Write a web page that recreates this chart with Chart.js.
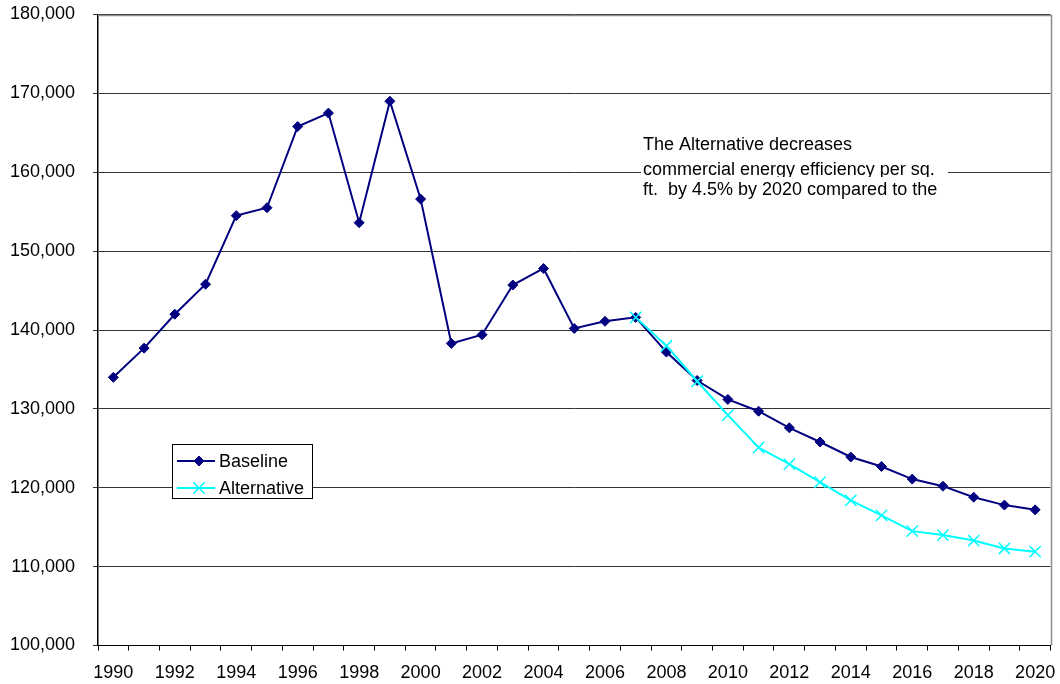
<!DOCTYPE html>
<html>
<head>
<meta charset="utf-8">
<title>Commercial energy use</title>
<script src="https://cdn.jsdelivr.net/npm/chart.js@4"></script>
<style>
  html, body { margin: 0; padding: 0; background: #fff; }
  canvas { display: block; }
</style>
</head>
<body>
<canvas id="chart" width="1060" height="684"></canvas>
<script>
// Years on the category axis
const years = [];
for (let y = 1990; y <= 2020; y++) years.push(String(y));

// Baseline series, 1990-2020
const baseline = [
  134000, 137700, 142000, 145800, 154500, 155500, 165800, 167500, 153600, 169000,
  156600, 138300, 139400, 145700, 147800, 140200, 141100, 141600, 137200, 133600,
  131200, 129700, 127600, 125800, 123900, 122700, 121100, 120200, 118800, 117800,
  117200
];

// Alternative series, starts in 2007
const alternative = [
  null, null, null, null, null, null, null, null, null, null,
  null, null, null, null, null, null, null, 141600, 138000, 133500,
  129200, 125100, 123000, 120700, 118400, 116500, 114500, 114000, 113300, 112300,
  111900
];

const seriesNames = ['Baseline', 'Alternative'];
const noteLines = [
  'The Alternative decreases',
  'commercial energy efficiency per sq.',
  'ft.  by 4.5% by 2020 compared to the'
];

const FONT = '"Liberation Sans", Arial, sans-serif';
const NAVY = '#000080';
const CYAN = '#00FFFF';

// Text box drawn inside the plot, over the gridlines
const notePlugin = {
  id: 'note',
  afterDraw(chart) {
    const ctx = chart.ctx;
    ctx.save();
    ctx.font = '18px ' + FONT;
    ctx.fillStyle = '#fff';
    ctx.fillRect(641, 128, 307, 49);
    ctx.fillStyle = '#000';
    ctx.textBaseline = 'middle';
    ctx.textAlign = 'left';
    ctx.fillText(noteLines[0], 643, 145);
    ctx.fillText(noteLines[1], 643, 170);
    ctx.fillStyle = '#fff';
    ctx.fillRect(641, 177, 307, 26);
    ctx.fillStyle = '#000';
    ctx.fillText(noteLines[2], 643, 190);
    ctx.restore();
  }
};

// Grey plot border along the top and right edges
const borderPlugin = {
  id: 'plotBorder',
  beforeDatasetsDraw(chart) {
    const { ctx, chartArea } = chart;
    const r = Math.round(chartArea.right) + 0.5;
    const t = Math.round(chartArea.top) + 0.5;
    ctx.save();
    ctx.strokeStyle = '#8c8c8c';
    ctx.lineWidth = 1.5;
    ctx.beginPath();
    ctx.moveTo(chartArea.left, t);
    ctx.lineTo(r, t);
    ctx.lineTo(r, chartArea.bottom);
    ctx.stroke();
    ctx.restore();
  }
};

// Boxed legend placed inside the plot area
const boxLegendPlugin = {
  id: 'boxLegend',
  afterDraw(chart) {
    const ctx = chart.ctx;
    const x = 172, y = 444, w = 140, h = 54;
    ctx.save();
    ctx.fillStyle = '#fff';
    ctx.fillRect(x, y, w, h);
    ctx.strokeStyle = '#000';
    ctx.lineWidth = 1;
    ctx.strokeRect(x + 0.5, y + 0.5, w, h);
    const rows = [461, 488];
    chart.data.datasets.forEach((ds, i) => {
      const cy = rows[i];
      ctx.strokeStyle = ds.borderColor;
      ctx.fillStyle = ds.borderColor;
      ctx.lineWidth = 2;
      ctx.beginPath();
      ctx.moveTo(177, cy);
      ctx.lineTo(215, cy);
      ctx.stroke();
      ctx.lineWidth = ds.pointBorderWidth;
      Chart.helpers.drawPoint(ctx, {
        pointStyle: ds.pointStyle,
        radius: ds.pointRadius,
        borderWidth: ds.pointBorderWidth
      }, 199, cy);
      ctx.fillStyle = '#000';
      ctx.font = '18px ' + FONT;
      ctx.textBaseline = 'middle';
      ctx.textAlign = 'left';
      ctx.fillText(ds.label, 219, cy + 1);
    });
    ctx.restore();
  }
};

// Keep the plot edges fixed: no extra room reserved for overhanging tick labels
function noScalePadding(scale) {
  scale.paddingLeft = 0;
  scale.paddingRight = 0;
  scale.paddingTop = 0;
  scale.paddingBottom = 0;
}

new Chart(document.getElementById('chart'), {
  type: 'line',
  data: {
    labels: years,
    datasets: [
      {
        label: seriesNames[0],
        data: baseline,
        borderColor: NAVY,
        backgroundColor: NAVY,
        borderWidth: 2,
        pointStyle: 'rectRot',
        pointRadius: 5,
        pointBorderWidth: 1,
        pointBackgroundColor: NAVY,
        pointBorderColor: NAVY,
        tension: 0,
        order: 1
      },
      {
        label: seriesNames[1],
        data: alternative,
        borderColor: CYAN,
        backgroundColor: CYAN,
        borderWidth: 2,
        pointStyle: 'crossRot',
        pointRadius: 8,
        pointBorderWidth: 1.5,
        pointBackgroundColor: CYAN,
        pointBorderColor: CYAN,
        tension: 0,
        spanGaps: false,
        order: 0
      }
    ]
  },
  options: {
    responsive: false,
    animation: false,
    layout: { padding: { top: 14.5, right: 3.5, left: 0, bottom: 0 } },
    plugins: {
      legend: { display: false },
      tooltip: { enabled: false }
    },
    scales: {
      x: {
        type: 'category',
        offset: true,
        grid: {
          offset: true,
          drawOnChartArea: false,
          drawTicks: true,
          tickLength: 5,
          color: '#000'
        },
        border: { display: true, color: '#000', width: 1 },
        ticks: {
          autoSkip: false,
          maxRotation: 0,
          minRotation: 0,
          padding: 12,
          color: '#000',
          font: { family: FONT, size: 18 },
          callback: function (value, index) {
            return index % 2 === 0 ? this.getLabelForValue(value) : '';
          }
        },
        afterFit(scale) { scale.height = 38.5; noScalePadding(scale); }
      },
      y: {
        min: 100000,
        max: 180000,
        grid: {
          color: '#333333',
          lineWidth: 1,
          drawTicks: true,
          tickLength: 5
        },
        border: { display: true, color: '#000', width: 1.5 },
        ticks: {
          stepSize: 10000,
          padding: 18,
          color: '#000',
          font: { family: FONT, size: 18 },
          callback: (v) => v.toLocaleString('en-US')
        },
        afterFit(scale) { scale.width = 98; noScalePadding(scale); }
      }
    }
  },
  plugins: [borderPlugin, notePlugin, boxLegendPlugin]
});
</script>
</body>
</html>
